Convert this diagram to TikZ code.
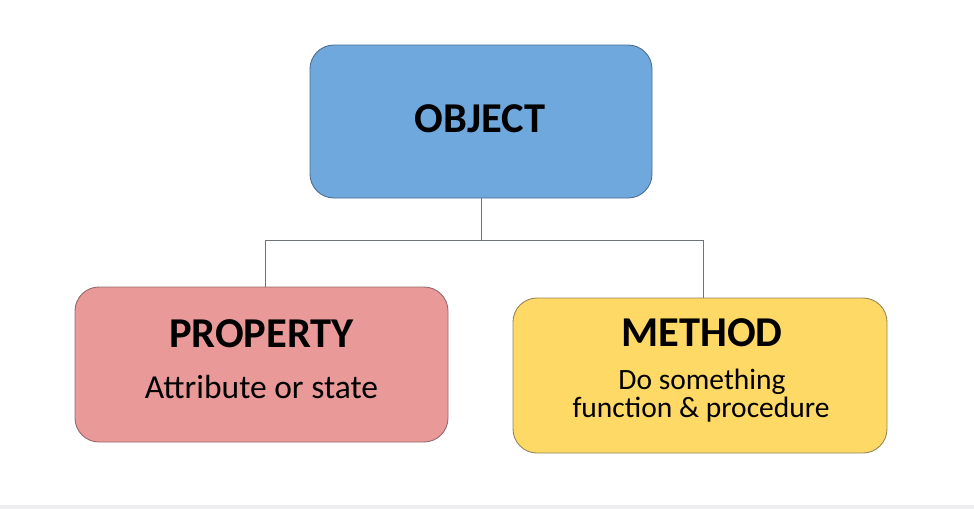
\documentclass[tikz,border=0pt]{standalone}
\usepackage{fontspec}
\setmainfont{Carlito}
\definecolor{objfill}{RGB}{111,168,220}
\definecolor{objline}{RGB}{80,110,145}
\definecolor{propfill}{RGB}{234,153,153}
\definecolor{propline}{RGB}{150,105,110}
\definecolor{methfill}{RGB}{255,217,102}
\definecolor{methline}{RGB}{150,135,90}
\definecolor{linkgray}{RGB}{110,115,120}
\definecolor{stripgray}{RGB}{238,238,240}
\begin{document}
\begin{tikzpicture}[x=1pt,y=-1pt,
  box/.style={rectangle,rounded corners=24pt,line width=0.9pt,inner sep=0pt},
  title/.style={anchor=base,font=\fontsize{42.5}{46}\selectfont\bfseries,inner sep=0pt},
  sub/.style={anchor=base,font=\fontsize{33.5}{37}\selectfont,inner sep=0pt},
  sub2/.style={anchor=base,font=\fontsize{29.5}{32}\selectfont,inner sep=0pt},
  link/.style={draw=linkgray,line width=0.9pt}]
\useasboundingbox (0,0) rectangle (974,509);
\fill[white] (0,0) rectangle (974,509);
\fill[stripgray] (0,505) rectangle (974,509);
% boxes
\node[box,draw=objline,fill=objfill,minimum width=342pt,minimum height=153pt] (obj) at (481,121.5) {};
\node[box,draw=propline,fill=propfill,minimum width=373pt,minimum height=155pt] (prop) at (261.5,364.5) {};
\node[box,draw=methline,fill=methfill,minimum width=374pt,minimum height=155pt] (meth) at (700,375.5) {};
% texts
\node[title] (objt) at (480,132) {OBJECT};
\node[title] (propt) at (261.5,347) {PROPERTY};
\node[sub] (props) at (261.5,398) {Attribute or state};
\node[title] (metht) at (702,346) {METHOD};
\node[sub2] (meths1) at (702,389) {Do something};
\node[sub2] (meths2) at (701,417) {function \& procedure};
% connectors
\coordinate (junc) at (481,240);
\draw[link] (obj.south) -- (junc);
\draw[link] (junc) -| ([xshift=3.5pt]prop.north);
\draw[link] (junc) -| ([xshift=3pt]meth.north);
\end{tikzpicture}
\end{document}
